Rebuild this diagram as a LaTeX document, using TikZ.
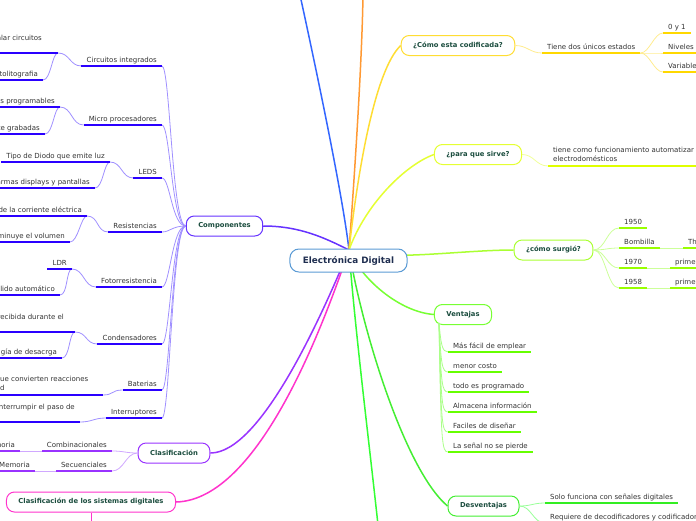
\documentclass[tikz,border=0pt]{standalone}
\usepackage{fontspec}
\setmainfont{DejaVu Sans}
\usetikzlibrary{calc}

\definecolor{leafgray}{HTML}{333333}
\definecolor{topicgreen}{HTML}{1B4D3E}
\definecolor{centrenavy}{HTML}{1F2E50}
\definecolor{centreblue}{HTML}{5B9BD5}
\definecolor{topblue}{HTML}{3366FF}
\definecolor{toporange}{HTML}{FF9933}
\definecolor{botgreen}{HTML}{33FF33}
\definecolor{compcol}{HTML}{6633FF}
\definecolor{compline}{HTML}{2A00FF}
\definecolor{complight}{HTML}{A090FF}
\definecolor{clascol}{HTML}{9933FF}
\definecolor{claslight}{HTML}{D0A8FF}
\definecolor{clsdcol}{HTML}{FF33CC}
\definecolor{codcol}{HTML}{FFDD33}
\definecolor{codline}{HTML}{FFD800}
\definecolor{codlight}{HTML}{FFEC90}
\definecolor{sirvecol}{HTML}{E5FF33}
\definecolor{sirveline}{HTML}{E0FF00}
\definecolor{sirvelight}{HTML}{F0FF99}
\definecolor{surgcol}{HTML}{AAFF33}
\definecolor{surgline}{HTML}{99FF00}
\definecolor{surglight}{HTML}{CCFF99}
\definecolor{ventcol}{HTML}{77FF33}
\definecolor{ventline}{HTML}{66FF00}
\definecolor{ventlight}{HTML}{AAFF88}
\definecolor{desvcol}{HTML}{44EE33}
\definecolor{desvline}{HTML}{33EE22}
\definecolor{desvlight}{HTML}{99FF99}

\newcommand{\leafsize}{\fontsize{7pt}{8.4pt}\selectfont}
\newcommand{\topicsize}{\fontsize{6.8pt}{8pt}\selectfont}
\newcommand{\centresize}{\fontsize{8.8pt}{10pt}\selectfont}

\begin{document}
\begin{tikzpicture}[x=1pt,y=-1pt,
    leaf/.style={font=\leafsize, text=leafgray, inner xsep=5pt, inner ysep=2pt},
    leafl/.style={leaf, text depth=1.8pt, anchor=south east},
    leafr/.style={leaf, text depth=1.8pt, anchor=south west},
    topic/.style={draw=#1, rounded corners=8pt, line width=1pt, fill=white,
      font=\topicsize\bfseries, text=topicgreen, inner xsep=12pt, minimum height=20pt},
    branch/.style={draw=#1, line width=1.5pt},
    link/.style={draw=#1, line width=0.8pt},
    uline/.style={draw=#1, line width=1.3pt}]
  \useasboundingbox (0,0) rectangle (696,520);

  % hub and loose ends
  \coordinate (hub) at (349,250);
  \coordinate (topb) at (300,-5);
  \coordinate (topo) at (363,-5);
  \coordinate (botg) at (378,525);
  \coordinate (clsdend) at (91,530);
  \coordinate (vfoot) at (439,323);

  % main topics
  \node[topic=compcol] (comp) at (224.5,226) {Componentes};
  \node[topic=clascol] (clas) at (174,453) {Clasificación};
  \node[topic=clsdcol] (clsd) at (91,502) {Clasificación de los sistemas digitales};
  \node[topic=codcol] (cod) at (458,45.5) {¿Cómo esta codificada?};
  \node[topic=sirvecol] (sirve) at (478,154.5) {¿para que sirve?};
  \node[topic=surgcol] (surg) at (553.5,250) {¿cómo surgió?};
  \node[topic=ventcol] (vent) at (463,314.5) {Ventajas};
  \node[topic=desvcol] (desv) at (483.5,506) {Desventajas};

  % branches from the centre
  \draw[branch=topblue] (hub) .. controls (342,190) and (312,50) .. (topb);
  \draw[branch=toporange] (hub) .. controls (355,170) and (362,60) .. (topo);
  \draw[branch=codcol] (hub) .. controls (358,170) and (375,70) .. (cod.west);
  \draw[branch=sirvecol] (hub) .. controls (365,205) and (405,165) .. (sirve.west);
  \draw[branch=surgcol] (hub) .. controls (385,262) and (460,250) .. (surg.west);
  \draw[branch=ventcol] (hub) .. controls (362,280) and (400,312) .. (vent.west);
  \draw[branch=desvcol] (hub) .. controls (362,330) and (405,470) .. (desv.west);
  \draw[branch=botgreen] (hub) .. controls (355,330) and (370,450) .. (botg);
  \draw[branch=compcol] (comp.east) .. controls (300,226) and (325,238) .. (hub);
  \draw[branch=clascol] (clas.east) .. controls (260,453) and (320,320) .. (hub);
  \draw[branch=clsdcol] (clsd.east) .. controls (260,500) and (325,320) .. (hub);
  \draw[clsdcol, line width=1pt] (clsd.south) -- (clsdend);

  \node[draw=centreblue, rounded corners=9pt, line width=1pt, fill=white,
    font=\centresize\bfseries, text=centrenavy, inner xsep=13pt,
    minimum height=23pt] (centre) at (348.5,260.5) {Electrónica Digital};

  % Componentes
  \node[leafl] (ci) at (162,66) {Circuitos integrados};
  \node[leafl] (mp) at (162,125) {Micro procesadores};
  \node[leafl] (leds) at (162,178) {LEDS};
  \node[leafl] (res) at (162,232) {Resistencias};
  \node[leafl] (foto) at (162,287) {Fotorresistencia};
  \node[leafl] (cond) at (162,344) {Condensadores};
  \node[leafl] (bat) at (162,390) {Baterias};
  \node[leafl] (intr) at (162,418) {Interruptores};

  \node[leafl, text depth=10pt] (ci1) at (58,53) {alar circuitos\kern11pt};
  \node[leafl] (ci2) at (43,80) {otolitografia};
  \node[leafl] (mp1) at (60,107) {us programables};
  \node[leafl] (mp2) at (45,134) {te grabadas};
  \node[leafl] (le1) at (110,162) {Tipo de Diodo que emite luz};
  \node[leafl] (le2) at (95,188) {armas displays y pantallas};
  \node[leafl] (re1) at (87,216) {de la corriente eléctrica};
  \node[leafl] (re2) at (70,242) {minuye el volumen};
  \node[leafl] (fo1) at (72,269) {LDR};
  \node[leafl] (fo2) at (60,295) {lido automático};
  \node[leafl, text depth=10pt] (co1) at (75,332) {recibida durante el\kern6pt};
  \node[leafl] (co2) at (62,358) {gía de desacrga};
  \node[leaf, anchor=south west, align=left] (ba1) at (-5,395)
    {ue convierten reacciones\kern9pt\\d\strut};
  \node[leafl, text depth=10pt] (in1) at (80,422) {nterrumpir el paso de};

  \foreach \n/\y in {ci/66, mp/125, leds/178, res/232, foto/287, cond/344, bat/390, intr/418}
    \draw[link=complight] (\n.south east) .. controls (170,\y) and (172,226) .. (comp.west);
  \foreach \c/\p in {ci1/ci, mp1/mp, le1/leds, re1/res, fo1/foto, co1/cond, ba1/bat, in1/intr}
    \draw[link=complight] (\c.south east) .. controls +(12,0) and +(-12,0) .. (\p.south west);
  \foreach \c/\p in {ci2/ci1, mp2/mp1, le2/le1, re2/re1, fo2/fo1, co2/co1}
    \draw[link=complight] (\c.south east) .. controls +(8,0) and +(-6,0) .. (\p.south east);
  \foreach \n in {ci,mp,leds,res,foto,cond,bat,intr,ci1,ci2,mp1,mp2,le1,le2,re1,re2,fo1,fo2,co1,co2,ba1,in1}
    \draw[uline=compline] (\n.south west) -- (\n.south east);

  % Clasificacion
  \node[leafl] (comb) at (112,451) {Combinacionales};
  \node[leafl] (sec) at (112,471) {Secuenciales};
  \node[leafl] (cb1) at (20,451) {moria};
  \node[leafl] (sc1) at (35,471) {Memoria};
  \foreach \n in {comb,sec}
    \draw[link=claslight] (\n.south east) .. controls +(12,0) and +(-12,0) .. (clas.west);
  \draw[link=claslight] (cb1.south east) -- (comb.south west);
  \draw[link=claslight] (sc1.south east) -- (sec.south west);
  \foreach \n in {comb,sec,cb1,sc1}
    \draw[uline=clascol] (\n.south west) -- (\n.south east);

  % Como esta codificada
  \node[leafr] (tiene) at (542,53) {Tiene dos únicos estados};
  \node[leafr] (t1) at (663,33) {0 y 1};
  \node[leafr] (t2) at (663,53) {Niveles l};
  \node[leafr] (t3) at (663,72) {Variable};
  \draw[link=codlight] (cod.east) .. controls +(12,0) and +(-12,0) .. (tiene.south west);
  \foreach \n in {t1,t2,t3}
    \draw[link=codlight] (tiene.south east) .. controls +(9,0) and +(-9,0) .. (\n.south west);
  \foreach \n in {tiene,t1,t2,t3}
    \draw[uline=codline] (\n.south west) -- (\n.south east);

  % para que sirve
  \node[leaf, anchor=south west, align=left] (func) at (548,166)
    {tiene como funcionamiento automatizar l\\electrodomésticos\strut};
  \draw[link=sirvelight] (sirve.east) .. controls +(12,0) and +(-12,0) .. (func.south west);
  \draw[uline=sirveline] (func.south west) -- (func.south east);

  % como surgio
  \node[leafr] (s1) at (619,228) {1950};
  \node[leafr] (s2) at (619,248) {Bombilla};
  \node[leafr] (s3) at (619,268) {1970};
  \node[leafr] (s4) at (619,288) {1958};
  \node[leafr] (s2a) at (683,248) {Th};
  \node[leafr] (s3a) at (670,268) {prime};
  \node[leafr] (s4a) at (670,288) {prime};
  \foreach \n in {s1,s2,s3,s4}
    \draw[link=surglight] (surg.east) .. controls +(12,0) and +(-12,0) .. (\n.south west);
  \draw[link=surglight] (s2.south east) -- (s2a.south west);
  \draw[link=surglight] (s3.south east) -- (s3a.south west);
  \draw[link=surglight] (s4.south east) -- (s4a.south west);
  \foreach \n in {s1,s2,s3,s4,s2a,s3a,s4a}
    \draw[uline=surgline] (\n.south west) -- (\n.south east);

  % Ventajas
  \node[leafr] (v1) at (448,352) {Más fácil de emplear};
  \node[leafr] (v2) at (448,372) {menor costo};
  \node[leafr] (v3) at (448,392) {todo es programado};
  \node[leafr] (v4) at (448,412) {Almacena información};
  \node[leafr] (v5) at (448,432) {Faciles de diseñar};
  \node[leafr] (v6) at (448,452) {La señal no se pierde};
  \foreach \n/\y in {v1/352, v2/372, v3/392, v4/412, v5/432, v6/452}
    \draw[link=ventlight] (vfoot) .. controls (441,\y-8) and (442,\y) .. (\n.south west);
  \foreach \n in {v1,v2,v3,v4,v5,v6}
    \draw[uline=ventline] (\n.south west) -- (\n.south east);

  % Desventajas
  \node[leafr] (d1) at (545,503) {Solo funciona con señales digitales};
  \node[leafr] (d2) at (545,523) {Requiere de decodificadores y codificador};
  \foreach \n in {d1,d2}
    \draw[link=desvlight] (desv.east) .. controls +(12,0) and +(-12,0) .. (\n.south west);
  \foreach \n in {d1,d2}
    \draw[uline=desvline] (\n.south west) -- (\n.south east);
\end{tikzpicture}
\end{document}
